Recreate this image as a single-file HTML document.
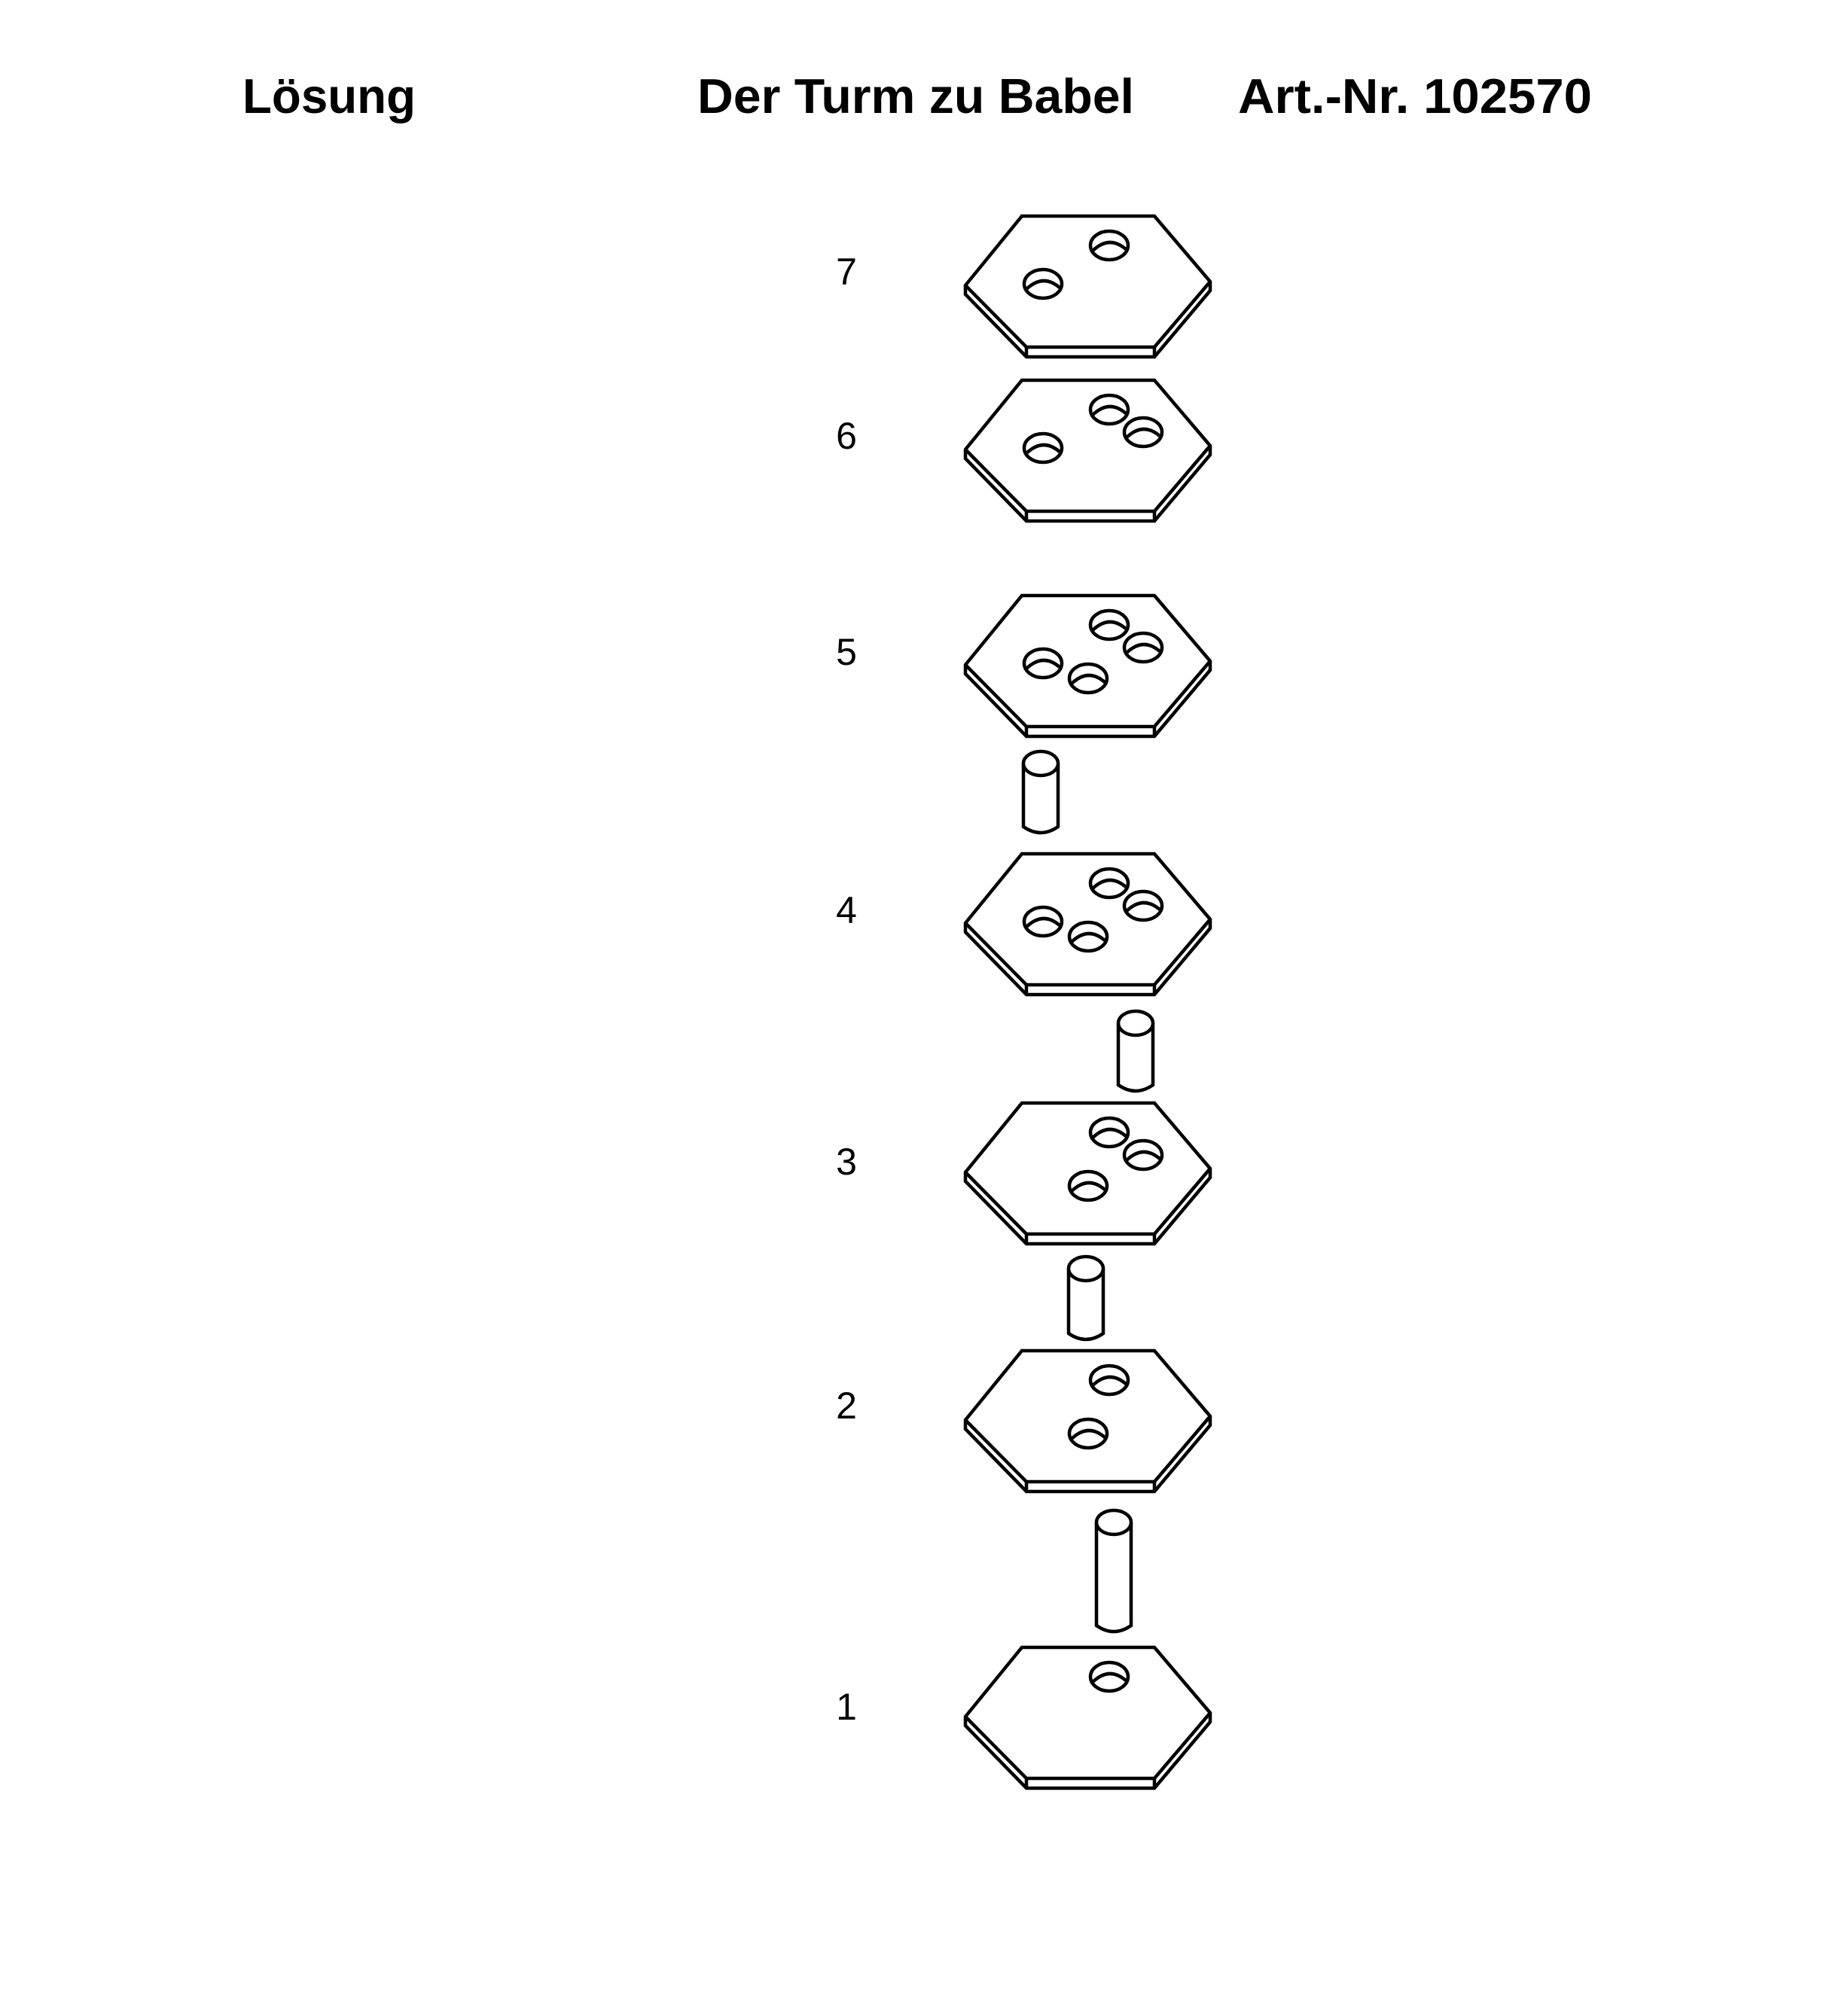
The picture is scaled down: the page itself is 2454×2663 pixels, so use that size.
<!DOCTYPE html>
<html><head><meta charset="utf-8"><style>
html,body{margin:0;padding:0;background:#fff;}
svg{display:block;}
</style></head><body>
<svg width="2454" height="2663" viewBox="0 0 2454 2663" xmlns="http://www.w3.org/2000/svg">
<defs>
<g id="hex" fill="#fff" stroke="#000" stroke-width="4.5" stroke-linejoin="miter">
<polygon points="1282,92 1357,0 1533,0 1607,87 1607,99 1533,187 1363,187 1282,104"/>
<polyline fill="none" points="1282,92 1363,174 1533,174 1607,87"/>
<line x1="1363" y1="174" x2="1363" y2="187"/>
<line x1="1533" y1="174" x2="1533" y2="187"/>
</g>
<g id="hole" fill="none" stroke="#000" stroke-width="4.5">
<ellipse cx="0" cy="0" rx="25" ry="19" fill="#fff"/>
<path d="M-22,7 Q0,-14 22,5"/>
</g>
</defs>

<g font-family="Liberation Sans, Arial, sans-serif" font-weight="bold" font-size="65" fill="#000">
<text x="322" y="150" textLength="230" lengthAdjust="spacingAndGlyphs">Lösung</text>
<text x="926" y="150" textLength="580" lengthAdjust="spacingAndGlyphs">Der Turm zu Babel</text>
<text x="1644" y="150" textLength="470" lengthAdjust="spacingAndGlyphs">Art.-Nr. 102570</text>
</g>

<g font-family="Liberation Sans, Arial, sans-serif" font-size="50" fill="#000" text-anchor="middle">
<text x="1124" y="378">7</text>
<text x="1124" y="596">6</text>
<text x="1124" y="883">5</text>
<text x="1124" y="1226">4</text>
<text x="1124" y="1560">3</text>
<text x="1124" y="1884">2</text>
<text x="1124" y="2284">1</text>
</g>

<g transform="translate(0,287)"><use href="#hex"/>
<use href="#hole" x="1473" y="39"/><use href="#hole" x="1385" y="90"/></g>
<g transform="translate(0,505)"><use href="#hex"/>
<use href="#hole" x="1473" y="39"/><use href="#hole" x="1518" y="69"/><use href="#hole" x="1385" y="90"/></g>
<g transform="translate(0,791)"><use href="#hex"/>
<use href="#hole" x="1473" y="39"/><use href="#hole" x="1518" y="69"/><use href="#hole" x="1385" y="90"/><use href="#hole" x="1445" y="110"/></g>
<g transform="translate(0,1134)"><use href="#hex"/>
<use href="#hole" x="1473" y="39"/><use href="#hole" x="1518" y="69"/><use href="#hole" x="1385" y="90"/><use href="#hole" x="1445" y="110"/></g>
<g transform="translate(0,1465)"><use href="#hex"/>
<use href="#hole" x="1473" y="39"/><use href="#hole" x="1518" y="69"/><use href="#hole" x="1445" y="110"/></g>
<g transform="translate(0,1794)"><use href="#hex"/>
<use href="#hole" x="1473" y="39"/><use href="#hole" x="1445" y="110"/></g>
<g transform="translate(0,2188)"><use href="#hex"/>
<use href="#hole" x="1473" y="39"/></g>

<g fill="#fff" stroke="#000" stroke-width="4.5">
<path d="M1359,1014 L1359,1098 Q1382,1114 1405,1098 L1405,1014"/>
<ellipse cx="1382" cy="1014" rx="23" ry="16"/>
<path d="M1485,1359 L1485,1441 Q1508,1457 1531,1441 L1531,1359"/>
<ellipse cx="1508" cy="1359" rx="23" ry="16"/>
<path d="M1419,1685 L1419,1771 Q1442,1787 1465,1771 L1465,1685"/>
<ellipse cx="1442" cy="1685" rx="23" ry="16"/>
<path d="M1456,2022 L1456,2159 Q1479,2175 1502,2159 L1502,2022"/>
<ellipse cx="1479" cy="2022" rx="23" ry="16"/>
</g>
</svg>
</body></html>
